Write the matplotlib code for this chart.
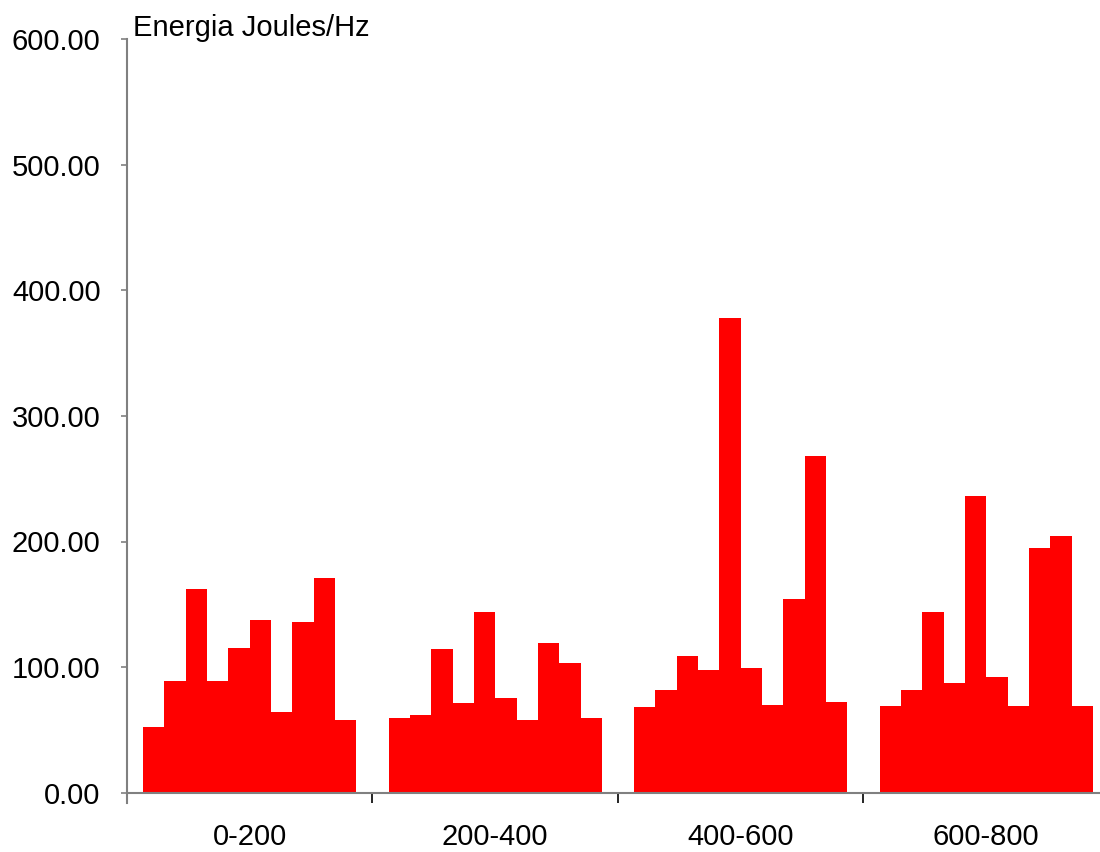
import matplotlib
matplotlib.use("Agg")
import matplotlib.pyplot as plt
import numpy as np

# frequency bands and the 10 readings per band
categories = ['0-200', '200-400', '400-600', '600-800']
band_0_200 = [52.5, 88.5, 162.0, 89.0, 115.0, 137.5, 64.0, 136.0, 171.0, 58.0]
band_200_400 = [59.0, 61.5, 114.0, 71.5, 143.5, 75.0, 58.0, 119.0, 103.0, 59.0]
band_400_600 = [68.0, 82.0, 108.5, 97.5, 378.0, 99.0, 69.5, 154.0, 268.5, 72.0]
band_600_800 = [69.0, 82.0, 143.5, 87.0, 236.0, 92.0, 69.0, 194.5, 204.5, 69.0]
yticks = [0, 100, 200, 300, 400, 500, 600]

plt.rcParams['font.family'] = ['Liberation Sans', 'DejaVu Sans']

fig = plt.figure(figsize=(11, 8.52), dpi=100)
# axes runs a little past the right edge, as in the reference
ax = fig.add_axes([127 / 1100, 59.5 / 852, 982 / 1100, 753 / 852])

series = [band_0_200, band_200_400, band_400_600, band_600_800]
n = len(band_0_200)
w = 1 / (n + 1.5)  # Excel-like gap width of 150%
for i, vals in enumerate(series):
    xs = i + (np.arange(n) - (n - 1) / 2) * w
    ax.bar(xs, vals, width=w, color='#ff0000', edgecolor='none')

ax.set_xlim(-0.5, len(categories) - 0.5)
ax.set_ylim(0, 600)
ax.set_yticks(yticks)
ax.set_yticklabels([f'{v:.2f}' for v in yticks])

# ticks at band boundaries, labels at band centres
ax.set_xticks(np.arange(len(categories)) + 0.5)
ax.set_xticklabels([])
ax.set_xticks(np.arange(len(categories)), minor=True)
ax.set_xticklabels(categories, minor=True)
ax.tick_params(axis='x', which='major', direction='out', length=7, width=1.2, color='#000000')
ax.tick_params(axis='x', which='minor', length=0, pad=22, labelsize=21)
ax.tick_params(axis='y', direction='out', length=4, width=1.2, color='#808080', pad=15, labelsize=21)

for s in ['top', 'right']:
    ax.spines[s].set_visible(False)
for s in ['left', 'bottom']:
    ax.spines[s].set_color('#808080')
    ax.spines[s].set_linewidth(1.5)
ax.spines['left'].set_bounds(-8, 600)

fig.text(133 / 1100, 1 - 36 / 852, 'Energia Joules/Hz', fontsize=21, va='baseline', ha='left')

fig.savefig('out.png', dpi=100)
